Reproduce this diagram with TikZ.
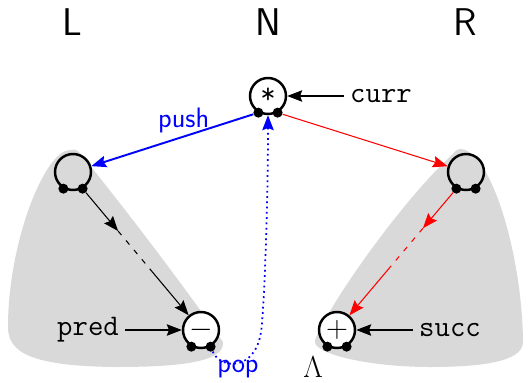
\documentclass[tikz,border=0pt]{standalone}
\usepackage{amsmath,amssymb}
\usepackage{xcolor}
\usepackage{tikz}
\usetikzlibrary{arrows.meta, positioning, calc}

\begin{document}
\begin{tikzpicture}
\tikzstyle{cell} = [circle, draw=black, line width=1.4pt, minimum size=0.72cm, inner sep=0pt, font=\fontsize{17}{20}\selectfont]
\tikzstyle{ptr} = [circle, fill=black, minimum size=0.2cm, inner sep=0pt]
\tikzstyle{subtree} = [fill=black!15]
\tikzstyle{lbl} = [font=\ttfamily\fontsize{17}{20}\selectfont]
\tikzstyle{side} = [font=\sffamily\fontsize{22}{26}\selectfont]
\tikzstyle{arrow} = [line width=0.6pt,->,>={Stealth[length=8.5pt,width=6.5pt,inset=1.2pt]}]

\useasboundingbox (0,0) rectangle (10.6,7.64);

% Subtrees
\fill[subtree] (1.4,4.64) .. controls (0.9,4.64) and (0.16,2.8) .. (0.16,1.1)
  .. controls (0.16,0.6) and (0.6,0.32) .. (2.3,0.3)
  .. controls (3.6,0.3) and (4.5,0.4) .. (4.46,0.8)
  .. controls (3.5,2.16) and (2.55,3.4) .. (1.6,4.58)
  .. controls (1.52,4.66) and (1.46,4.66) .. cycle;
\fill[subtree] (9.2,4.66) .. controls (9.8,4.66) and (10.44,2.6) .. (10.46,0.8)
  .. controls (10.46,0.4) and (9.6,0.3) .. (8.6,0.3)
  .. controls (7.4,0.3) and (6.22,0.56) .. (6.3,0.84)
  .. controls (6.6,1.6) and (8.1,3.7) .. (9.06,4.56)
  .. controls (9.12,4.64) and (9.16,4.66) .. cycle;

% Column headers
\node[side] (hl) at (1.44,7.2) {L};
\node[side] (hn) at (5.36,7.2) {N};
\node[side] (hr) at (9.3,7.2) {R};

% Cells
\node[cell] (curr) at (5.36,5.72) {\texttt{*}};
\node[cell] (left) at (1.46,4.2) {};
\node[cell] (right) at (9.32,4.2) {};
\node[cell, fill=white] (pred) at (4.02,1.04) {$-$};
\node[cell, fill=white] (succ) at (6.74,1.04) {$+$};

% Pointer dots
\foreach \c in {curr, left, right, pred, succ} {
  \node[ptr] (\c l) at (\c.-120) {};
  \node[ptr] (\c r) at (\c.-60) {};
}

% Labels
\node[lbl] (currlbl) at (7.62,5.72) {curr};
\node[lbl] (predlbl) at (1.76,1.04) {pred};
\node[lbl] (succlbl) at (9.0,1.04) {succ};
\node[font=\fontsize{16}{19}\selectfont] (lam) at (6.26,0.3) {$\Lambda$};

% Connections
\draw[arrow] (currlbl) -- (curr);
\draw[arrow] (predlbl) -- (pred);
\draw[arrow] (succlbl) -- (succ);

\draw[arrow, blue, line width=1.1pt] (currl) -- node[above, pos=0.43, inner sep=1.5pt, font=\sffamily\fontsize{16}{19}\selectfont] {push} (left);
\draw[arrow, red] (currr) -- (right);

\coordinate (la) at ($(leftr)!0.3!(pred)$);
\coordinate (lb) at ($(leftr)!0.57!(pred)$);
\draw[arrow] (leftr) -- (la);
\draw[line width=0.6pt, dash pattern=on 3pt off 4pt] (la) -- (lb);
\draw[arrow] (lb) -- (pred);

\coordinate (ra) at ($(rightl)!0.28!(succ)$);
\coordinate (rb) at ($(rightl)!0.55!(succ)$);
\draw[arrow, red] (rightl) -- (ra);
\draw[red, line width=0.6pt, dash pattern=on 3pt off 4pt] (ra) -- (rb);
\draw[arrow, red] (rb) -- (succ);

% pop back to the top
\node[blue, anchor=base, font=\sffamily\fontsize{16}{19}\selectfont] (poplbl) at (4.76,0.2) {pop};
\draw[arrow, blue, line width=1pt, dotted] (predr) .. controls (4.4,0.26) and (5.1,0.2) .. (5.22,1.0)
  .. controls (5.28,1.4) and (5.36,3.5) .. (curr.south);
\end{tikzpicture}
\end{document}
